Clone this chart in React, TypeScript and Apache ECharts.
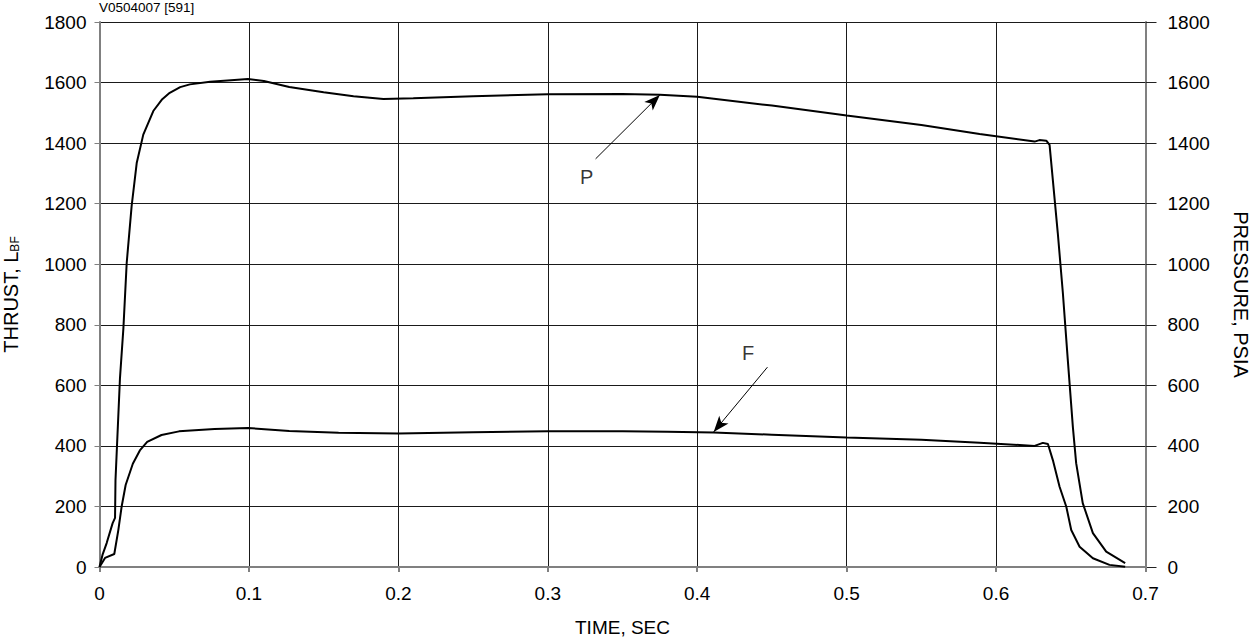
import React, { useEffect, useRef } from "react";
import * as echarts from "echarts";

const xTicks = [0, 0.1, 0.2, 0.3, 0.4, 0.5, 0.6, 0.7];
const yTicks = [0, 200, 400, 600, 800, 1000, 1200, 1400, 1600, 1800];

const pressure: [number, number][] = [
  [0, 0], [0.002, 40], [0.0048, 79], [0.0088, 145], [0.0104, 162], [0.0107, 287],
  [0.0137, 624], [0.016, 789], [0.0182, 1004], [0.0215, 1192], [0.0249, 1334],
  [0.0293, 1428], [0.036, 1506], [0.042, 1545], [0.047, 1566], [0.054, 1585],
  [0.0605, 1594], [0.074, 1603], [0.088, 1608], [0.0993, 1612], [0.11, 1605],
  [0.127, 1585], [0.15, 1568], [0.17, 1555], [0.19, 1546], [0.21, 1548],
  [0.25, 1555], [0.3, 1561], [0.35, 1562], [0.375, 1560], [0.4, 1553],
  [0.45, 1524], [0.5, 1491], [0.55, 1460], [0.589, 1430], [0.6258, 1405],
  [0.629, 1410], [0.6336, 1408], [0.6358, 1394], [0.638, 1278], [0.6413, 1103],
  [0.6447, 905], [0.648, 684], [0.6514, 462], [0.6536, 343], [0.658, 211],
  [0.6648, 112], [0.6737, 51], [0.6864, 13],
];

const thrust: [number, number][] = [
  [0, 0], [0.0037, 30], [0.0099, 43], [0.0126, 122], [0.0148, 199], [0.0175, 271],
  [0.0223, 341], [0.027, 385], [0.0319, 413], [0.0415, 436], [0.0532, 448],
  [0.077, 456], [0.0993, 459], [0.127, 449], [0.16, 443], [0.2, 441],
  [0.25, 445], [0.3, 448], [0.35, 448], [0.38, 447], [0.411, 444], [0.45, 437],
  [0.5, 428], [0.55, 420], [0.589, 410], [0.6258, 400], [0.6313, 410],
  [0.6347, 406], [0.638, 353], [0.6425, 265], [0.647, 199], [0.6503, 122],
  [0.6559, 67], [0.6648, 29], [0.6759, 7], [0.6864, 1],
];

// arrow [tail, tip] in data coordinates
const pArrow: [number, number][] = [[0.332, 1348], [0.375, 1559]];
const fArrow: [number, number][] = [[0.447, 660], [0.411, 446]];
const curveLabels: { name: string; value: [number, number] }[] = [
  { name: "P", value: [0.326, 1288] },
  { name: "F", value: [0.434, 707] },
];

const FONT = "'Liberation Sans', Arial, sans-serif";

export default function App() {
  const ref = useRef<HTMLDivElement>(null);
  useEffect(() => {
    if (!ref.current) return;
    const chart = echarts.init(ref.current, undefined, { renderer: "svg" });
    const axisLabel = { color: "#000", fontSize: 19, fontFamily: FONT };
    const arrowLine = (pts: [number, number][]) => ({
      silent: true,
      symbol: ["none", "arrow"],
      symbolSize: [9, 16],
      label: { show: false },
      lineStyle: { color: "#000", width: 1, type: "solid" },
      data: [[{ coord: pts[0] }, { coord: pts[1] }]],
    });
    chart.setOption({
      animation: false,
      backgroundColor: "#fff",
      textStyle: { fontFamily: FONT },
      grid: { left: 99.5, right: 108.5, top: 22, bottom: 71, containLabel: false, outerBoundsMode: "none" },
      graphic: [
        {
          type: "text",
          left: 99,
          top: 0,
          style: { text: "V0504007 [591]", fontSize: 13.5, fontFamily: FONT, fill: "#000" },
        },
      ],
      xAxis: {
        type: "value",
        min: xTicks[0],
        max: xTicks[xTicks.length - 1],
        interval: 0.1,
        name: "TIME, SEC",
        nameLocation: "middle",
        nameGap: 50,
        nameTextStyle: { color: "#000", fontSize: 19, fontFamily: FONT, lineHeight: 20 },
        axisLine: { show: true, lineStyle: { color: "#808080", width: 2 } },
        axisTick: { show: true, length: 5, lineStyle: { color: "#808080", width: 2 } },
        axisLabel: { ...axisLabel, margin: 17, formatter: (v: number) => String(+v.toFixed(1)) },
        splitLine: { show: true, lineStyle: { color: "#1a1a1a", width: 1 } },
      },
      yAxis: [
        {
          type: "value",
          min: yTicks[0],
          max: yTicks[yTicks.length - 1],
          interval: 200,
          position: "left",
          name: "{a|THRUST, L}{b|BF}",
          nameLocation: "middle",
          nameGap: 79,
          nameTextStyle: {
            rich: {
              a: { fontSize: 20, fontFamily: FONT, color: "#000", lineHeight: 20, verticalAlign: "bottom" },
              b: { fontSize: 12, fontFamily: FONT, color: "#000", lineHeight: 20, verticalAlign: "bottom", padding: [6, 0, 0, 0] },
            },
          },
          axisLine: { show: true, lineStyle: { color: "#808080", width: 2 } },
          axisTick: { show: true, length: 5, lineStyle: { color: "#808080", width: 1 } },
          axisLabel: { ...axisLabel, margin: 13, formatter: (v: number) => String(v) },
          splitLine: { show: true, lineStyle: { color: "#1a1a1a", width: 1 } },
        },
        {
          type: "value",
          min: yTicks[0],
          max: yTicks[yTicks.length - 1],
          interval: 200,
          position: "right",
          name: "PRESSURE, PSIA",
          nameLocation: "middle",
          nameRotate: -90,
          nameGap: 85,
          nameTextStyle: { color: "#000", fontSize: 20, fontFamily: FONT, lineHeight: 20 },
          axisLine: { show: true, lineStyle: { color: "#808080", width: 2 } },
          axisTick: { show: true, length: 11, lineStyle: { color: "#222", width: 1 } },
          axisLabel: { ...axisLabel, margin: 22, formatter: (v: number) => String(v) },
          splitLine: { show: false },
        },
      ],
      series: [
        {
          name: "P",
          type: "line",
          data: pressure,
          showSymbol: false,
          symbol: "none",
          smooth: false,
          lineStyle: { color: "#000", width: 2 },
          markLine: arrowLine(pArrow),
          silent: true,
        },
        {
          name: "F",
          type: "line",
          data: thrust,
          showSymbol: false,
          symbol: "none",
          smooth: false,
          lineStyle: { color: "#000", width: 2 },
          markLine: arrowLine(fArrow),
          silent: true,
        },
        {
          type: "scatter",
          data: curveLabels,
          symbolSize: 0,
          silent: true,
          label: {
            show: true,
            position: "inside",
            formatter: (p: any) => p.name,
            color: "#000",
            fontSize: 20,
            fontFamily: FONT,
          },
        },
      ],
    });
    return () => chart.dispose();
  }, []);
  return (
    <div
      ref={ref}
      style={{ position: "fixed", left: 0, top: 0, width: 1254, height: 638, background: "#fff" }}
    />
  );
}
